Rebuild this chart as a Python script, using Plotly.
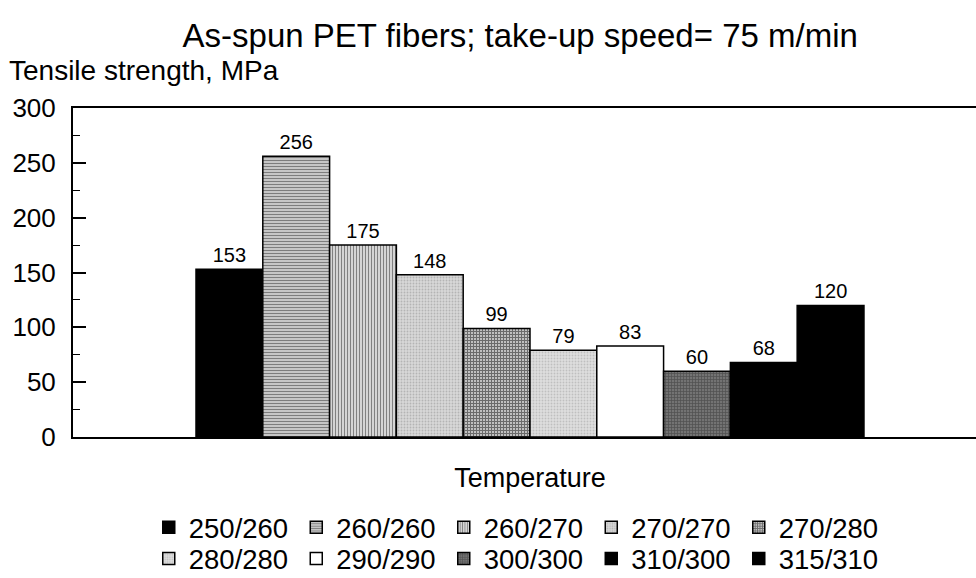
import plotly.graph_objects as go

categories = ["250/260", "260/260", "260/270", "270/270", "270/280",
              "280/280", "290/290", "300/300", "310/300", "315/310"]
values = [153, 256, 175, 148, 99, 79, 83, 60, 68, 120]
x_label = ["Temperature"]

styles = [
    dict(color="#000000", pattern=dict(shape="")),
    dict(color="#ffffff", pattern=dict(shape="-", fgcolor="#111111", bgcolor="#e8e8e8", size=3, solidity=0.55)),
    dict(color="#ffffff", pattern=dict(shape="|", fgcolor="#111111", bgcolor="#f0f0f0", size=3, solidity=0.5)),
    dict(color="#d4d4d4", pattern=dict(shape=".", fgcolor="#909090", bgcolor="#d8d8d8", size=3, solidity=0.3)),
    dict(color="#444444", pattern=dict(shape="+", fgcolor="#111111", bgcolor="#c4c4c4", size=3, solidity=0.6)),
    dict(color="#d8d8d8", pattern=dict(shape=".", fgcolor="#a0a0a0", bgcolor="#dedede", size=3, solidity=0.3)),
    dict(color="#ffffff", pattern=dict(shape="")),
    dict(color="#555555", pattern=dict(shape="+", fgcolor="#2a2a2a", bgcolor="#737373", size=3, solidity=0.4)),
    dict(color="#000000", pattern=dict(shape="")),
    dict(color="#000000", pattern=dict(shape="")),
]

FONT = "Liberation Sans, Arial, sans-serif"

fig = go.Figure()
for i, (cat, val) in enumerate(zip(categories, values)):
    st = styles[i]
    fig.add_trace(go.Bar(
        x=x_label, y=[val], name=cat,
        marker=dict(color=st["color"], pattern=st["pattern"],
                    line=dict(color="#000000", width=1.5)),
        text=[str(val)], textposition="outside",
        textfont=dict(size=20, color="#000000", family=FONT),
        cliponaxis=False,
        legend="legend" if i < 5 else "legend2",
    ))

fig.update_layout(
    width=976, height=578,
    margin=dict(l=73, r=0, t=108, b=141, autoexpand=False),
    paper_bgcolor="white", plot_bgcolor="white",
    font=dict(family=FONT, color="#000000"),
    barmode="group", bargap=0.3, bargroupgap=0,
    title=dict(text="As-spun PET fibers; take-up speed= 75 m/min",
               font=dict(size=33, family=FONT, color="#000000"),
               x=0.533, xanchor="center", y=0.938, yanchor="middle"),
    xaxis=dict(type="category", range=[-0.4789, 0.4674], automargin=False,
               showline=True, linecolor="#000000", linewidth=2, mirror=True,
               ticks="", tickfont=dict(size=27, family=FONT, color="#000000"),
               ticklabelstandoff=16, showgrid=False, zeroline=False),
    yaxis=dict(range=[0, 300], tickvals=[0, 50, 100, 150, 200, 250, 300], automargin=False,
               showline=True, linecolor="#000000", linewidth=2,
               ticks="inside", ticklen=13, tickwidth=1.5, tickcolor="#000000",
               minor=dict(ticks="inside", ticklen=7, tickwidth=1, tickcolor="#000000", dtick=25),
               tickfont=dict(size=26, family=FONT, color="#000000"),
               ticklabelstandoff=10, showgrid=False, zeroline=False),
    legend=dict(orientation="h", x=0.0839, xanchor="left", y=-0.2006, yanchor="top",
                entrywidth=102.5, font=dict(size=27.5, family=FONT, color="#000000"),
                bgcolor="rgba(0,0,0,0)"),
    legend2=dict(orientation="h", x=0.0839, xanchor="left", y=-0.295, yanchor="top",
                 entrywidth=102.5, font=dict(size=27.5, family=FONT, color="#000000"),
                 bgcolor="rgba(0,0,0,0)"),
    showlegend=True,
)

fig.add_annotation(text="Tensile strength, MPa", xref="paper", yref="paper",
                   x=-0.073, xanchor="left", y=1.115, yanchor="middle",
                   showarrow=False, font=dict(size=28, family=FONT, color="#000000"))

fig.write_html("out.html")
